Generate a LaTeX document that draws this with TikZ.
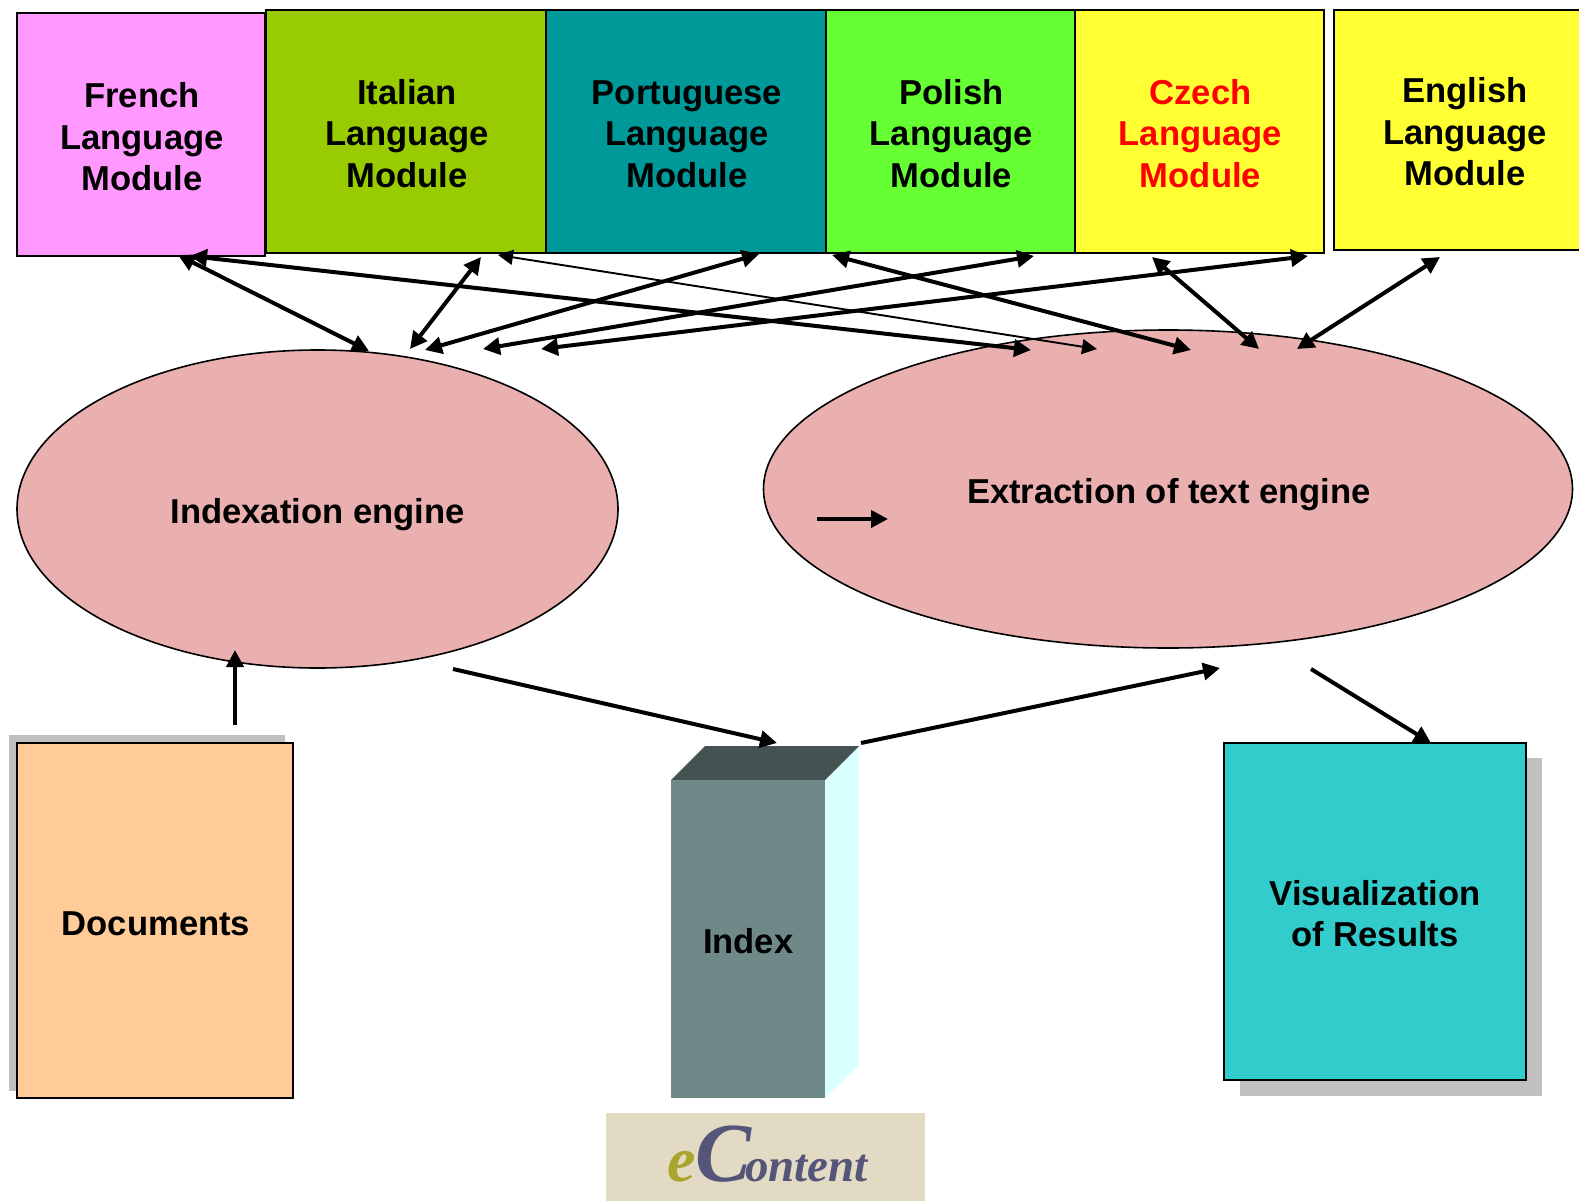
\documentclass[tikz,border=0pt]{standalone}
\usepackage{fontspec}
\setmainfont{Liberation Sans}
\newfontfamily\logofont{Liberation Serif}
\usetikzlibrary{arrows.meta,shapes.geometric}
\definecolor{cfrench}{HTML}{FF99FF}
\definecolor{citalian}{HTML}{99CC00}
\definecolor{cport}{HTML}{009999}
\definecolor{cpolish}{HTML}{66FF33}
\definecolor{cyel}{HTML}{FFFF33}
\definecolor{cell}{HTML}{EAB0B0}
\definecolor{cdoc}{HTML}{FFCC99}
\definecolor{cvis}{HTML}{33CCCC}
\definecolor{cshadow}{HTML}{C0C0C0}
\definecolor{cfront}{HTML}{6F8888}
\definecolor{ctop}{HTML}{445252}
\definecolor{cside}{HTML}{D9FFFF}
\definecolor{clogo}{HTML}{E3DAC3}
\definecolor{clogoe}{HTML}{A9A52F}
\definecolor{clogoc}{HTML}{55557A}
\newcommand{\lowertext}[2]{\raisebox{-#1}[\height][\depth]{\begin{tabular}{@{}c@{}}#2\end{tabular}}}
\newcommand{\modtext}[2]{\kern2pt\lowertext{#1}{#2}}
\tikzset{
  x=1pt,y=-1pt,
  lab/.style={font=\fontsize{34.6}{41.5}\selectfont\bfseries,align=center,text=black},
  modbox/.style={draw=black,line width=2pt,anchor=north west,lab,inner sep=0pt},
  engine/.style={ellipse,draw=black,line width=1.6pt,fill=cell,inner sep=0pt,lab},
  twoway/.style={line width=4pt,{Triangle[length=17pt,width=17pt]}-{Triangle[length=17pt,width=17pt]}},
  thinway/.style={line width=1.9pt,{Triangle[length=15pt,width=15pt]}-{Triangle[length=15pt,width=15pt]}},
  oneway/.style={line width=4pt,-{Triangle[length=17pt,width=17pt]}}
}
\begin{document}
\begin{tikzpicture}
\useasboundingbox (0,0) rectangle (1579,1201);
% language modules
\node[modbox,fill=cfrench,minimum width=248pt,minimum height=243pt] (fr) at (16,12) {\modtext{6.5pt}{French\\Language\\Module}};
\node[modbox,fill=citalian,minimum width=280pt,minimum height=243pt] (it) at (265,9) {\modtext{6pt}{Italian\\Language\\Module}};
\node[modbox,fill=cport,minimum width=280pt,minimum height=243pt] (pt) at (545,9) {\modtext{6pt}{Portuguese\\Language\\Module}};
\node[modbox,fill=cpolish,minimum width=249pt,minimum height=243pt] (pl) at (825,9) {\modtext{6pt}{Polish\\Language\\Module}};
\node[modbox,fill=cyel,minimum width=249pt,minimum height=243pt,text=red] (cz) at (1074,9) {\modtext{6pt}{Czech\\Language\\Module}};
\node[modbox,fill=cyel,minimum width=260pt,minimum height=240pt] (en) at (1333,9) {\modtext{6pt}{English\\Language\\Module}};
% engines
\node[engine,minimum width=601pt,minimum height=318pt] (idx) at (317.5,509) {\lowertext{6pt}{Indexation engine}};
\node[engine,minimum width=809pt,minimum height=318pt] (ext) at (1168,489) {\modtext{6pt}{Extraction of text engine}};
% documents
\fill[cshadow] (9,735) rectangle (285,1091);
\node[modbox,fill=cdoc,minimum width=276pt,minimum height=355pt] (docs) at (16,742) {\modtext{7pt}{Documents}};
% results
\fill[cshadow] (1240,758) rectangle (1542,1096);
\node[modbox,fill=cvis,minimum width=302pt,minimum height=337pt] (vis) at (1223,742) {\lowertext{6pt}{Visualization\\of Results}};
% index block
\fill[cside] (825,780) -- (859,746) -- (859,1065) -- (825,1098) -- cycle;
\fill[ctop] (671,780) -- (705,746) -- (859,746) -- (825,780) -- cycle;
\node[anchor=north west,fill=cfront,minimum width=154pt,minimum height=318pt,inner sep=0pt,font=\fontsize{34.6}{41.5}\selectfont\bfseries] (index) at (671,780) {\lowertext{6pt}{Index}};
% logo
\node[anchor=north west,fill=clogo,minimum width=319pt,minimum height=88pt,inner sep=0pt] (logo) at (606,1113) {\raisebox{3pt}[\height][\depth]{\kern4pt\logofont\bfseries\itshape\textcolor{clogoe}{\fontsize{64}{64}\selectfont e}\kern-1pt\textcolor{clogoc}{\fontsize{84}{84}\selectfont C\kern-6pt\fontsize{47}{47}\selectfont ontent}}};
% free ends of connectors
\coordinate (frA) at (178,255);
\coordinate (frB) at (190,256);
\coordinate (itA) at (481,257);
\coordinate (itB) at (498,255);
\coordinate (ptA) at (759,254);
\coordinate (plA) at (832,255);
\coordinate (plB) at (1034,256);
\coordinate (czA) at (1152,257);
\coordinate (czB) at (1308,256);
\coordinate (enA) at (1440,257);
\coordinate (iA) at (369,351);
\coordinate (iB) at (410,349);
\coordinate (iC) at (425,350);
\coordinate (iD) at (483,349);
\coordinate (iE) at (541,349);
\coordinate (eA) at (1031,350);
\coordinate (eB) at (1097,349);
\coordinate (eC) at (1191,350);
\coordinate (eD) at (1259,349);
\coordinate (eE) at (1297,349);
\coordinate (stubA) at (817,519);
\coordinate (stubB) at (888,519);
\coordinate (docTop) at (235,725);
\coordinate (idxBot) at (235,650);
\coordinate (o1) at (453,669);
\coordinate (o2) at (777,743);
\coordinate (o3) at (861,743);
\coordinate (o4) at (1220,668);
\coordinate (o5) at (1311,669);
\coordinate (o6) at (1431,743);
% connectors
\draw[twoway] (frA) -- (iA);
\draw[twoway] (frB) -- (eA);
\draw[twoway] (itA) -- (iB);
\draw[thinway] (itB) -- (eB);
\draw[twoway] (ptA) -- (iC);
\draw[twoway] (plA) -- (eC);
\draw[twoway] (plB) -- (iD);
\draw[twoway] (czA) -- (eD);
\draw[twoway] (czB) -- (iE);
\draw[twoway] (enA) -- (eE);
\draw[oneway] (stubA) -- (stubB);
\draw[oneway] (docTop) -- (idxBot);
\draw[oneway] (o1) -- (o2);
\draw[oneway] (o3) -- (o4);
\draw[oneway] (o5) -- (o6);
\end{tikzpicture}
\end{document}
